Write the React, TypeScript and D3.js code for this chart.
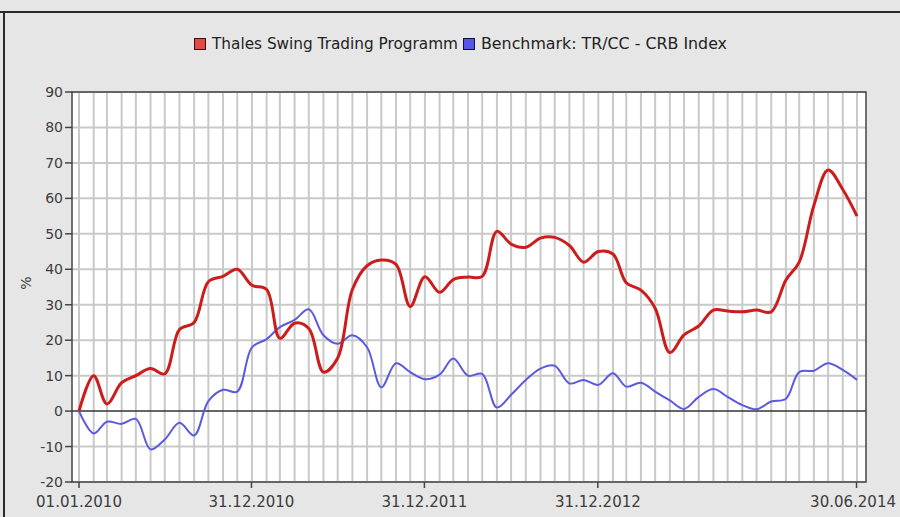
import React from "react";
import * as d3 from "d3";

const seriesNames = ["Thales Swing Trading Programm", "Benchmark: TR/CC - CRB Index"];

// monthly values, Jan 2010 .. Jul 2014 (55 points)
const thales = [
  0, 10, 2, 8, 10, 12, 10.5, 23, 25, 36.5, 38, 40,
  35.5, 34.3, 20.5, 24.8, 23.3, 11, 15, 34.3, 41, 42.6, 41.4, 29.5,
  37.9, 33.5, 37.1, 37.8, 38, 50.7, 47.1, 46.2, 48.8, 49, 46.7, 42,
  45, 44.3, 36.2, 34.1, 29, 16.5, 21.5, 24, 28.5, 28.2, 28, 28.5,
  28, 37, 42, 58, 68, 62.5, 55,
];
const crb = [
  0, -6.3, -3, -3.6, -2.2, -10.8, -8, -3.3, -6.9, 2.8, 6, 5.5,
  18, 20.3, 23.7, 25.7, 28.7, 21.4, 19, 21.4, 18, 6.7, 13.5, 11,
  9, 10.3, 14.8, 10, 10.5, 1, 4.6, 8.8, 12, 12.8, 7.8, 8.8,
  7.4, 10.7, 6.9, 8, 5.5, 3, 0.6, 4, 6.2, 4, 1.7, 0.5,
  2.7, 3.5, 11, 11.4, 13.5, 11.6, 8.8,
];
const yTicks = [90, 80, 70, 60, 50, 40, 30, 20, 10, 0, -10, -20];
const xTickDates = ["2010-01-01", "2010-12-31", "2011-12-31", "2012-12-31", "2014-06-30"];
const xTickLabels = ["01.01.2010", "31.12.2010", "31.12.2011", "31.12.2012", "30.06.2014"];

const W = 900;
const H = 517;
const plot = { left: 72, right: 866, top: 92, bottom: 482 };

export default function App() {
  const months = d3.timeMonth.range(new Date(2010, 0, 1), new Date(2014, 6, 2));
  const x = d3
    .scaleTime()
    .domain([new Date(2010, 0, 1), new Date(2014, 6, 1)])
    .range([79, 857]);
  const y = d3.scaleLinear().domain([-20, 90]).range([plot.bottom, plot.top]);

  const line = d3
    .line<number>()
    .x((_, i) => x(months[i]))
    .y((v) => y(v))
    .curve(d3.curveCatmullRom.alpha(0.5));

  const font = "Tahoma, 'DejaVu Sans', Verdana, sans-serif";
  const textColor = "#3c3c3c";

  return (
    <svg
      width={W}
      height={H}
      style={{ position: "absolute", left: 0, top: 0, background: "#e6e6e6" }}
    >
      <rect x={0} y={0} width={W} height={H} fill="#e6e6e6" />
      {/* frame */}
      <line x1={0} x2={W} y1={12} y2={12} stroke="#2a2a2a" strokeWidth={2} />
      <line x1={4} x2={4} y1={11} y2={H} stroke="#2a2a2a" strokeWidth={2} />

      {/* legend */}
      <g fontFamily={font} fontSize={15} fill="#222">
        <rect x={194.5} y={38.5} width={11} height={11} fill="#e24848" stroke="#3a1010" />
        <text x={212} y={49} textLength={246} lengthAdjust="spacingAndGlyphs">
          {seriesNames[0]}
        </text>
        <rect x={463.5} y={38.5} width={11} height={11} fill="#5656e6" stroke="#10103a" />
        <text x={481} y={49} textLength={246} lengthAdjust="spacingAndGlyphs">
          {seriesNames[1]}
        </text>
      </g>

      {/* plot background */}
      <rect
        x={plot.left}
        y={plot.top}
        width={plot.right - plot.left}
        height={plot.bottom - plot.top}
        fill="#ffffff"
      />
      {/* vertical grid */}
      {months.map((m, i) => (
        <line
          key={"vg" + i}
          x1={x(m)}
          x2={x(m)}
          y1={plot.top}
          y2={plot.bottom}
          stroke="#c9c9c9"
          strokeWidth={2}
        />
      ))}
      {/* horizontal grid */}
      {yTicks.map((t) => (
        <line
          key={"hg" + t}
          x1={plot.left}
          x2={plot.right}
          y1={y(t)}
          y2={y(t)}
          stroke={t === 0 ? "#333" : "#c9c9c9"}
          strokeWidth={t === 0 ? 1.5 : 2}
        />
      ))}
      {/* frame of plot */}
      <rect
        x={plot.left}
        y={plot.top}
        width={plot.right - plot.left}
        height={plot.bottom - plot.top}
        fill="none"
        stroke="#444"
        strokeWidth={1.5}
      />

      {/* lines */}
      <path d={line(crb) || ""} fill="none" stroke="#5a5ae0" strokeWidth={2} />
      <path d={line(thales) || ""} fill="none" stroke="#cc1c1c" strokeWidth={3} />

      {/* y axis */}
      <g fontFamily={font} fontSize={14} fill={textColor}>
        {yTicks.map((t) => (
          <g key={"yt" + t}>
            <line x1={plot.left - 7} x2={plot.left} y1={y(t)} y2={y(t)} stroke="#444" strokeWidth={1.5} />
            <text x={plot.left - 9} y={y(t) + 5} textAnchor="end">
              {t}
            </text>
          </g>
        ))}
        <text transform={`translate(31,${283}) rotate(-90)`} textAnchor="middle">
          %
        </text>
      </g>

      {/* x axis */}
      <g fontFamily={font} fontSize={15} fill={textColor}>
        {xTickDates.map((d, i) => {
          const px = x(new Date(d + "T00:00:00"));
          const last = i === xTickDates.length - 1;
          return (
            <g key={"xt" + i}>
              <line x1={px} x2={px} y1={plot.bottom} y2={plot.bottom + 6} stroke="#444" strokeWidth={1.5} />
              <text x={last ? 896 : px} y={507} textAnchor={last ? "end" : "middle"}>
                {xTickLabels[i]}
              </text>
            </g>
          );
        })}
      </g>
    </svg>
  );
}
